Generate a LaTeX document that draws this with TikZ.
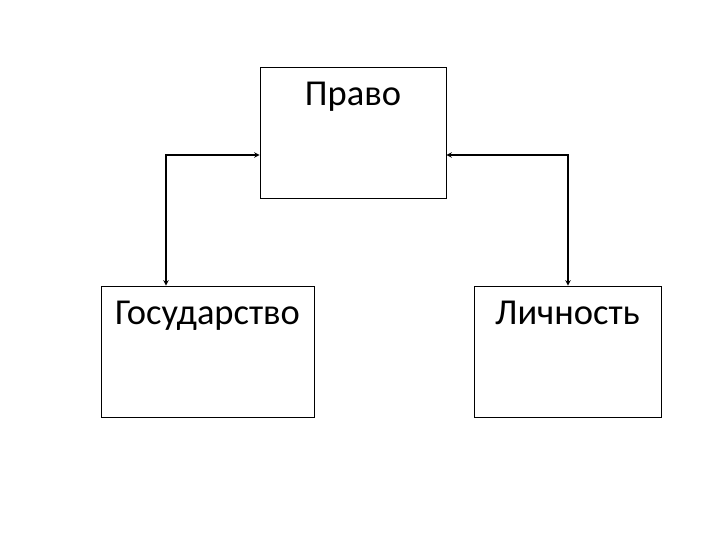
\documentclass[tikz,border=0pt]{standalone}
\usepackage{fontspec}
\setmainfont{Carlito}
\usetikzlibrary{arrows, calc}
\tikzstyle{box} = [rectangle, draw=black, line width=0.8pt, inner sep=0pt]
\tikzstyle{title} = [anchor=base, inner sep=0pt, font=\fontsize{36.5}{42}\selectfont]
\tikzstyle{arrow} = [line width=1.4pt,<->,>=stealth]

\begin{document}
\begin{tikzpicture}[x=1pt, y=-1pt]
    \useasboundingbox (0,0) rectangle (720,540);

    \node (pravo) [box, minimum width=186pt, minimum height=131pt] at (353,132.5) {};
    \node (gos) [box, minimum width=213pt, minimum height=131pt] at (207.5,351.5) {};
    \node (lich) [box, minimum width=187pt, minimum height=131pt] at (567.5,351.5) {};

    \node (pravo_t) [title] at ($(pravo.north)+(0,-38.5pt)$) {Право};
    \node (gos_t) [title] at ($(gos.north)+(0,-38.5pt)$) {Государство};
    \node (lich_t) [title] at ($(lich.north)+(0,-38.5pt)$) {Личность};

    \coordinate (left_corner) at (166,155);
    \coordinate (right_corner) at (568,155);

    \draw [arrow] (left_corner |- gos.north) -- (left_corner) -- (left_corner -| pravo.west);
    \draw [arrow] (right_corner |- lich.north) -- (right_corner) -- (right_corner -| pravo.east);

\end{tikzpicture}
\end{document}
